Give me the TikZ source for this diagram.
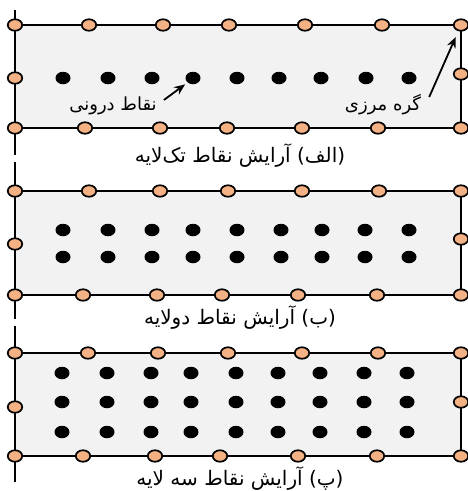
\documentclass[tikz,border=0pt]{standalone}
\usepackage{fontspec}
\usetikzlibrary{shapes.geometric,arrows.meta}
\newfontfamily\fafont[Script=Arabic]{DejaVu Sans}
\TeXXeTstate=1
\definecolor{bnode}{HTML}{F4B183}
\definecolor{boxgray}{HTML}{F2F2F2}
\tikzset{
 bnd/.style={ellipse, draw=black, line width=1.7pt, fill=bnode, minimum width=14.5pt, minimum height=11.5pt, inner sep=0pt},
 inn/.style={ellipse, fill=black, minimum width=15pt, minimum height=12.5pt, inner sep=0pt},
 boxedge/.style={line width=2.2pt},
 lbl/.style={font=\fafont\fontsize{18}{20}\selectfont, inner sep=0pt},
 captxt/.style={font=\fafont\fontsize{20}{22}\selectfont, inner sep=0pt},
 ptr/.style={line width=1.8pt, -{Stealth[length=11pt,width=9pt]}}
}
\begin{document}
\begin{tikzpicture}[x=1pt,y=-1pt]
\useasboundingbox (0,0) rectangle (467,491);
% ---------- panel 1 ----------
\coordinate (p1tl) at (15,25); \coordinate (p1tr) at (461,25);
\coordinate (p1br) at (461,128); \coordinate (p1bl) at (15,128);
\coordinate (p1up) at (15,10); \coordinate (p1dn) at (15,155);
\fill[boxgray] (p1tl) rectangle (p1br);
\draw[boxedge] (p1up) -- (p1dn);
\draw[boxedge] (p1tl) -- (p1tr) -- (p1br) -- (p1bl);
\foreach \x [count=\i] in {15,89,163,229,305,382,461} \node[bnd] (p1t\i) at (\x,25) {};
\foreach \x [count=\i] in {15,85,160,227,302,378,461} \node[bnd] (p1b\i) at (\x,128) {};
\node[bnd] (p1ml) at (15,78) {};
\node[bnd] (p1mr) at (461,74) {};
\foreach \x [count=\i] in {63,108,152,193,237,279,321,366,409} \node[inn] (p1d\i) at (\x,78) {};
\node[lbl] (lin) at (113,106) {\beginR نقاط درونی\endR};
\node[lbl] (lmz) at (383,105) {\beginR گره مرزی\endR};
\draw[ptr, shorten >=3pt] ([shift={(7,-6)}]lin.east) -- (p1d4.south west);
\draw[ptr, shorten >=13pt] ([shift={(8,-8)}]lmz.east) -- (p1t7.center);
\node[captxt] (cap1) at (240,156) {\beginR(الف) آرایش نقاط تک‌لایه\endR};
% ---------- panel 2 ----------
\coordinate (p2tl) at (15,191); \coordinate (p2tr) at (461,191);
\coordinate (p2br) at (461,295); \coordinate (p2bl) at (15,295);
\coordinate (p2up) at (15,162); \coordinate (p2dn) at (15,319);
\fill[boxgray] (p2tl) rectangle (p2br);
\draw[boxedge] (p2up) -- (p2dn);
\draw[boxedge] (p2tl) -- (p2tr) -- (p2br) -- (p2bl);
\foreach \x [count=\i] in {15,89,160,228,302,379,461} \node[bnd] (p2t\i) at (\x,191) {};
\foreach \x [count=\i] in {15,83,157,222,298,377,461} \node[bnd] (p2b\i) at (\x,295) {};
\node[bnd] (p2ml) at (15,244) {};
\node[bnd] (p2mr) at (461,239) {};
\foreach \y [count=\j] in {230,257}
  \foreach \x [count=\i] in {63,108,152,193,237,281,322,365,409}
    \node[inn] (p2d\j\i) at (\x,\y) {};
\node[captxt] (cap2) at (240,318) {\beginR(ب) آرایش نقاط دولایه\endR};
% ---------- panel 3 ----------
\coordinate (p3tl) at (15,353); \coordinate (p3tr) at (461,353);
\coordinate (p3br) at (461,456); \coordinate (p3bl) at (15,456);
\coordinate (p3up) at (15,326); \coordinate (p3dn) at (15,482);
\fill[boxgray] (p3tl) rectangle (p3br);
\draw[boxedge] (p3up) -- (p3dn);
\draw[boxedge] (p3tl) -- (p3tr) -- (p3br) -- (p3bl);
\foreach \x [count=\i] in {15,88,158,228,302,378,461} \node[bnd] (p3t\i) at (\x,353) {};
\foreach \x [count=\i] in {15,83,155,220,298,377,461} \node[bnd] (p3b\i) at (\x,456) {};
\node[bnd] (p3ml) at (15,407) {};
\node[bnd] (p3mr) at (461,402) {};
\foreach \y [count=\j] in {373,402,432}
  \foreach \x [count=\i] in {62,107,151,191,236,278,320,364,407}
    \node[inn] (p3d\j\i) at (\x,\y) {};
\node[captxt] (cap3) at (240,479) {\beginR(پ) آرایش نقاط سه لایه\endR};
\end{tikzpicture}
\end{document}
